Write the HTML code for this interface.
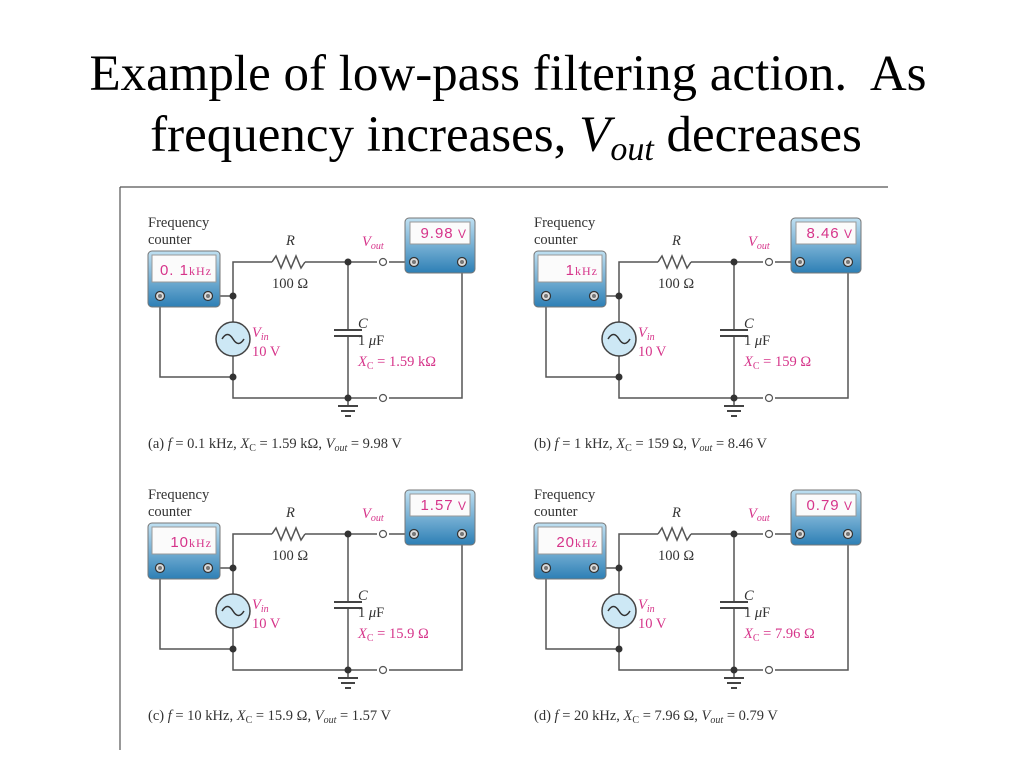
<!DOCTYPE html>
<html><head><meta charset="utf-8"><style>
html,body{margin:0;padding:0;background:#fff;width:1024px;height:768px;overflow:hidden}
svg{display:block}
.t{font-family:"Liberation Serif",serif;font-size:14.5px;fill:#333}
.p{font-family:"Liberation Serif",serif;font-size:14.5px;fill:#d6348a}
.d{font-family:"Liberation Sans",sans-serif;font-size:15px;fill:#d6348a;letter-spacing:1px}
.w{stroke:#555;stroke-width:1.5;fill:none}
</style></head><body>
<svg width="1024" height="768" viewBox="0 0 1024 768">
<defs>
<linearGradient id="g" x1="0" y1="0" x2="0" y2="1"><stop offset="0" stop-color="#bfe0f2"/><stop offset="1" stop-color="#2d7fb5"/></linearGradient>
<g id="term"><circle r="4.5" fill="#ddd" stroke="#333" stroke-width="1.2"/><circle r="2" fill="#777"/></g>
<g id="c">
<path class="w" d="M208 296H233V262H272 M305 262H377 M389 262H414 M462 262V398H389 M377 398H233V356 M233 322V296 M160 296V377H233 M348 262V330 M348 336V398 M348 398V406"/>
<path class="w" d="M272 262l4-6 5 12 5-12 5 12 5-12 5 12 4-6"/>
<path stroke="#444" stroke-width="2" d="M334 330H362 M334 336H362 M338 406H358 M341 411H355 M345 416H351"/>
<circle cx="383" cy="262" r="3.5" fill="#fff" stroke="#555" stroke-width="1.2"/>
<circle cx="383" cy="398" r="3.5" fill="#fff" stroke="#555" stroke-width="1.2"/>
<circle cx="233" cy="296" r="3.5" fill="#333"/><circle cx="233" cy="377" r="3.5" fill="#333"/>
<circle cx="348" cy="262" r="3.5" fill="#333"/><circle cx="348" cy="398" r="3.5" fill="#333"/>
<circle cx="233" cy="339" r="17" fill="#cde8f5" stroke="#444" stroke-width="1.5"/>
<path d="M222 339q5.5-9 11 0t11 0" stroke="#333" stroke-width="1.5" fill="none"/>
<rect x="148" y="251" width="72" height="56" rx="4" fill="url(#g)" stroke="#777"/>
<rect x="152" y="255" width="64" height="27" fill="#fbfbfb" stroke="#999"/>
<use href="#term" x="160" y="296"/><use href="#term" x="208" y="296"/>
<rect x="405" y="218" width="70" height="55" rx="4" fill="url(#g)" stroke="#777"/>
<rect x="410" y="222" width="60" height="22" fill="#fbfbfb" stroke="#999"/>
<use href="#term" x="414" y="262"/><use href="#term" x="462" y="262"/>
</g>
</defs>
<text x="508" y="90" text-anchor="middle" xml:space="preserve" style="font-family:'Liberation Serif',serif;font-size:51px" fill="#000">Example of low-pass filtering action.  As</text>
<text x="506" y="151" text-anchor="middle" style="font-family:'Liberation Serif',serif;font-size:51px" fill="#000">frequency increases, <tspan font-style="italic">V<tspan font-size="34" dy="9">out</tspan></tspan><tspan dy="-9"> decreases</tspan></text>
<path d="M120 187H888 M120 187V750" stroke="#555" stroke-width="1.2"/>

<g>
<use href="#c"/>
<text class="t" x="148" y="227">Frequency</text><text class="t" x="148" y="244">counter</text>
<text class="d" x="212" y="275" text-anchor="end">0. 1<tspan font-family="Liberation Serif" font-size="12">kHz</tspan></text>
<text class="d" x="467" y="238" text-anchor="end">9.98<tspan font-size="12"> V</tspan></text>
</g>
<g transform="translate(386,0)">
<use href="#c"/>
<text class="t" x="148" y="227">Frequency</text><text class="t" x="148" y="244">counter</text>
<text class="d" x="212" y="275" text-anchor="end">1<tspan font-family="Liberation Serif" font-size="12">kHz</tspan></text>
<text class="d" x="467" y="238" text-anchor="end">8.46<tspan font-size="12"> V</tspan></text>
</g>
<g transform="translate(0,272)">
<use href="#c"/>
<text class="t" x="148" y="227">Frequency</text><text class="t" x="148" y="244">counter</text>
<text class="d" x="212" y="275" text-anchor="end">10<tspan font-family="Liberation Serif" font-size="12">kHz</tspan></text>
<text class="d" x="467" y="238" text-anchor="end">1.57<tspan font-size="12"> V</tspan></text>
</g>
<g transform="translate(386,272)">
<use href="#c"/>
<text class="t" x="148" y="227">Frequency</text><text class="t" x="148" y="244">counter</text>
<text class="d" x="212" y="275" text-anchor="end">20<tspan font-family="Liberation Serif" font-size="12">kHz</tspan></text>
<text class="d" x="467" y="238" text-anchor="end">0.79<tspan font-size="12"> V</tspan></text>
</g>

<g>
<text class="t" x="286" y="245" font-style="italic">R</text><text class="t" x="272" y="288">100 Ω</text>
<text class="p" x="362" y="246" font-style="italic">V<tspan font-size="10" dy="3">out</tspan></text>
<text class="p" x="252" y="337" font-style="italic">V<tspan font-size="10" dy="3">in</tspan></text><text class="p" x="252" y="356">10 V</text>
<text class="t" x="358" y="328" font-style="italic">C</text><text class="t" x="358" y="345">1 <tspan font-style="italic">μ</tspan>F</text>
<text class="p" x="358" y="366"><tspan font-style="italic">X</tspan><tspan font-size="10" dy="3">C</tspan><tspan dy="-3"> = 1.59 kΩ</tspan></text>
<text class="t" x="148" y="448">(a) <tspan font-style="italic">f</tspan> = 0.1 kHz, <tspan font-style="italic">X</tspan><tspan font-size="10" dy="3">C</tspan><tspan dy="-3"> = 1.59 kΩ, </tspan><tspan font-style="italic">V</tspan><tspan font-size="10" dy="3" font-style="italic">out</tspan><tspan dy="-3"> = 9.98 V</tspan></text>
</g>
<g transform="translate(386,0)">
<text class="t" x="286" y="245" font-style="italic">R</text><text class="t" x="272" y="288">100 Ω</text>
<text class="p" x="362" y="246" font-style="italic">V<tspan font-size="10" dy="3">out</tspan></text>
<text class="p" x="252" y="337" font-style="italic">V<tspan font-size="10" dy="3">in</tspan></text><text class="p" x="252" y="356">10 V</text>
<text class="t" x="358" y="328" font-style="italic">C</text><text class="t" x="358" y="345">1 <tspan font-style="italic">μ</tspan>F</text>
<text class="p" x="358" y="366"><tspan font-style="italic">X</tspan><tspan font-size="10" dy="3">C</tspan><tspan dy="-3"> = 159 Ω</tspan></text>
<text class="t" x="148" y="448">(b) <tspan font-style="italic">f</tspan> = 1 kHz, <tspan font-style="italic">X</tspan><tspan font-size="10" dy="3">C</tspan><tspan dy="-3"> = 159 Ω, </tspan><tspan font-style="italic">V</tspan><tspan font-size="10" dy="3" font-style="italic">out</tspan><tspan dy="-3"> = 8.46 V</tspan></text>
</g>
<g transform="translate(0,272)">
<text class="t" x="286" y="245" font-style="italic">R</text><text class="t" x="272" y="288">100 Ω</text>
<text class="p" x="362" y="246" font-style="italic">V<tspan font-size="10" dy="3">out</tspan></text>
<text class="p" x="252" y="337" font-style="italic">V<tspan font-size="10" dy="3">in</tspan></text><text class="p" x="252" y="356">10 V</text>
<text class="t" x="358" y="328" font-style="italic">C</text><text class="t" x="358" y="345">1 <tspan font-style="italic">μ</tspan>F</text>
<text class="p" x="358" y="366"><tspan font-style="italic">X</tspan><tspan font-size="10" dy="3">C</tspan><tspan dy="-3"> = 15.9 Ω</tspan></text>
<text class="t" x="148" y="448">(c) <tspan font-style="italic">f</tspan> = 10 kHz, <tspan font-style="italic">X</tspan><tspan font-size="10" dy="3">C</tspan><tspan dy="-3"> = 15.9 Ω, </tspan><tspan font-style="italic">V</tspan><tspan font-size="10" dy="3" font-style="italic">out</tspan><tspan dy="-3"> = 1.57 V</tspan></text>
</g>
<g transform="translate(386,272)">
<text class="t" x="286" y="245" font-style="italic">R</text><text class="t" x="272" y="288">100 Ω</text>
<text class="p" x="362" y="246" font-style="italic">V<tspan font-size="10" dy="3">out</tspan></text>
<text class="p" x="252" y="337" font-style="italic">V<tspan font-size="10" dy="3">in</tspan></text><text class="p" x="252" y="356">10 V</text>
<text class="t" x="358" y="328" font-style="italic">C</text><text class="t" x="358" y="345">1 <tspan font-style="italic">μ</tspan>F</text>
<text class="p" x="358" y="366"><tspan font-style="italic">X</tspan><tspan font-size="10" dy="3">C</tspan><tspan dy="-3"> = 7.96 Ω</tspan></text>
<text class="t" x="148" y="448">(d) <tspan font-style="italic">f</tspan> = 20 kHz, <tspan font-style="italic">X</tspan><tspan font-size="10" dy="3">C</tspan><tspan dy="-3"> = 7.96 Ω, </tspan><tspan font-style="italic">V</tspan><tspan font-size="10" dy="3" font-style="italic">out</tspan><tspan dy="-3"> = 0.79 V</tspan></text>
</g>
</svg>
</body></html>
